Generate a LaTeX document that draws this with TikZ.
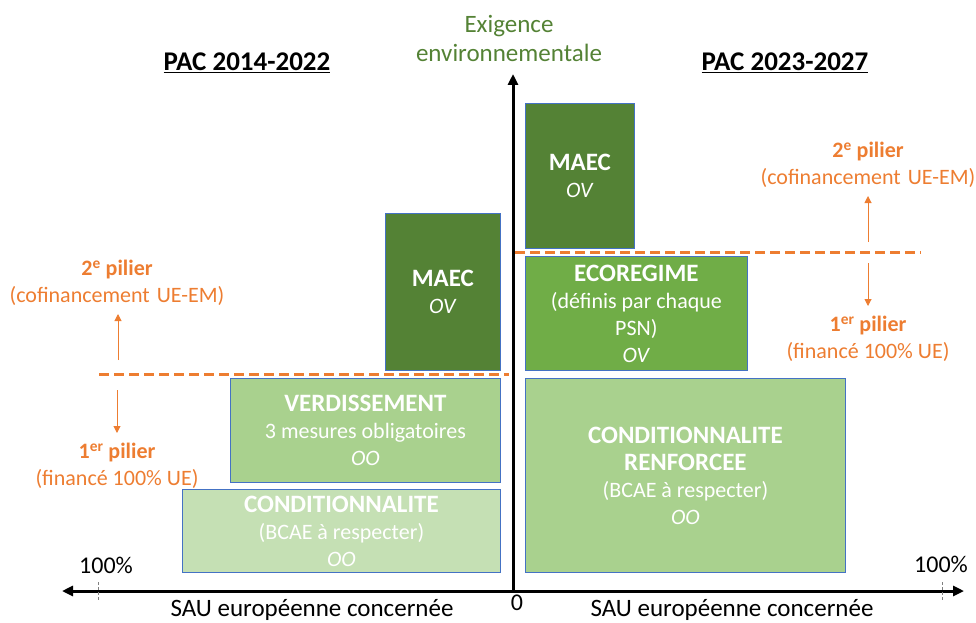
\documentclass[tikz,border=0pt]{standalone}
\usepackage{fontspec}
\setmainfont{Carlito}
\usetikzlibrary{arrows.meta}
\definecolor{dkgreen}{RGB}{84,130,53}
\definecolor{mdgreen}{RGB}{112,173,71}
\definecolor{ltgreen}{RGB}{169,209,142}
\definecolor{plgreen}{RGB}{197,224,180}
\definecolor{boxborder}{RGB}{68,114,196}
\definecolor{orng}{RGB}{237,125,49}
\newcommand{\hd}[1]{{\fontsize{25}{29}\selectfont\bfseries #1}}
\begin{document}
\begin{tikzpicture}[x=1pt,y=-1pt,
  box/.style={draw=boxborder, line width=0.8pt, inner sep=0pt, align=center,
    text=white, anchor=north west, font=\fontsize{22}{27}\selectfont},
  otext/.style={text=orng, align=center, inner sep=0pt, font=\fontsize{22}{26.5}\selectfont},
  axislabel/.style={inner sep=0pt, anchor=base, font=\fontsize{25}{29}\selectfont},
  title/.style={inner sep=0pt, anchor=base, font=\fontsize{27}{30}\selectfont\bfseries},
  axis/.style={line width=3pt, -{Triangle[length=11pt,width=10pt]}},
  dbaxis/.style={line width=3pt, {Triangle[length=11pt,width=10pt]}-{Triangle[length=11pt,width=10pt]}},
  pillarline/.style={draw=orng, line width=3pt, dash pattern=on 10pt off 5pt},
  oarrow/.style={draw=orng, line width=1pt, -{Triangle[length=7pt,width=7pt]}},
  tick/.style={draw=gray, line width=0.7pt, dash pattern=on 3pt off 2pt}]
\useasboundingbox (0,0) rectangle (976,623);

% boxes left
\node[box, fill=dkgreen, minimum width=115pt, minimum height=157pt] (maecL) at (385,213) {\hd{MAEC}\\\textit{OV}};
\node[box, fill=ltgreen, minimum width=270pt, minimum height=104pt] (verd) at (230,378) {\hd{VERDISSEMENT}\\3 mesures obligatoires\\\textit{OO}};
\node[box, fill=plgreen, minimum width=318pt, minimum height=83pt] (condL) at (182,489) {\hd{CONDITIONNALITE}\\(BCAE à respecter)\\\textit{OO}};

% boxes right
\node[box, fill=dkgreen, minimum width=109pt, minimum height=145pt] (maecR) at (525,103) {\hd{MAEC}\\\textit{OV}};
\node[box, fill=mdgreen, minimum width=222pt, minimum height=114pt] (eco) at (525,256) {\hd{ECOREGIME}\\(définis par chaque\\PSN)\\\textit{OV}};
\node[box, fill=ltgreen, minimum width=320pt, minimum height=194pt] (condR) at (525,378) {\hd{CONDITIONNALITE}\\\hd{RENFORCEE}\\(BCAE à respecter)\\\textit{OO}};

% axes
\coordinate (origin) at (513,592);
\coordinate (ytop) at (513,74);
\coordinate (xleft) at (62,591);
\coordinate (xright) at (964,591);
\draw[dbaxis] (xleft) -- (xright);
\draw[axis] (origin) -- (ytop);

% ticks
\coordinate (tlA) at (98,582); \coordinate (tlB) at (98,601);
\coordinate (trA) at (942,582); \coordinate (trB) at (942,601);
\draw[tick] (tlA) -- (tlB);
\draw[tick] (trA) -- (trB);

% dashed pillar lines
\coordinate (dlA) at (99,374); \coordinate (dlB) at (509,374);
\coordinate (drA) at (515,252); \coordinate (drB) at (921,252);
\draw[pillarline] (dlA) -- (dlB);
\draw[pillarline] (drA) -- (drB);

% axis labels
\node[text=dkgreen, align=center, inner sep=0pt, font=\fontsize{25}{29}\selectfont] (exig) at (509,38) {Exigence\\environnementale};
\node[title] (pacL) at (247,71) {\underline{PAC 2014-2022}};
\node[title] (pacR) at (785,71) {\underline{PAC 2023-2027}};
\node[axislabel, font=\fontsize{24}{28}\selectfont] (pctL) at (106,573) {100\%};
\node[axislabel, font=\fontsize{24}{28}\selectfont] (pctR) at (941,572) {100\%};
\node[axislabel, font=\fontsize{24}{28}\selectfont] (zero) at (517,610) {0};
\node[axislabel] (sauL) at (312,616) {SAU européenne concernée};
\node[axislabel] (sauR) at (732,616) {SAU européenne concernée};

% pillar labels
\node[otext] (p2L) at (117,283) {\textbf{2\textsuperscript{e} pilier}\\(cofinancement\hspace{7pt}UE-EM)};
\node[otext] (p1L) at (117,466) {\textbf{1\textsuperscript{er} pilier}\\(financé 100\% UE)};
\node[otext] (p2R) at (868,165) {\textbf{2\textsuperscript{e} pilier}\\(cofinancement\hspace{7pt}UE-EM)};
\node[otext] (p1R) at (868,339) {\textbf{1\textsuperscript{er} pilier}\\(financé 100\% UE)};

% pillar arrows
\coordinate (auL1) at (118,360); \coordinate (auL2) at (118,314);
\coordinate (adL1) at (117,390); \coordinate (adL2) at (117,433);
\coordinate (auR1) at (868,242); \coordinate (auR2) at (868,196);
\coordinate (adR1) at (868,263); \coordinate (adR2) at (868,306);
\draw[oarrow] (auL1) -- (auL2);
\draw[oarrow] (adL1) -- (adL2);
\draw[oarrow] (auR1) -- (auR2);
\draw[oarrow] (adR1) -- (adR2);
\end{tikzpicture}
\end{document}
